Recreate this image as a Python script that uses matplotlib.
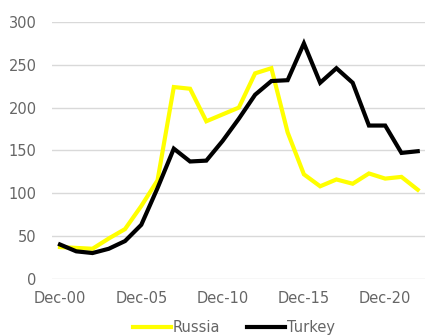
import matplotlib.pyplot as plt
import numpy as np

plt.rcParams.update({
    "font.family": ["DejaVu Sans"],
    "font.size": 10.5,
})

years = [f"Dec-{y % 100:02d}" for y in range(2000, 2023)]
russia = [37, 36, 35, 47, 58, 85, 115, 224, 222, 184, 192, 200, 240, 246,
          171, 122, 108, 116, 111, 123, 117, 119, 104]
turkey = [40, 32, 30, 35, 44, 63, 106, 152, 137, 138, 161, 187, 215, 231,
          232, 275, 229, 246, 229, 179, 179, 147, 149]

fig = plt.figure(figsize=(4.25, 3.36), dpi=100)
ax = fig.add_axes([0.122, 0.1705, 0.88, 0.764])

x = np.arange(len(years))
ax.plot(x, russia, color="#FFFF00", lw=3, label="Russia", solid_joinstyle="miter")
ax.plot(x, turkey, color="#000000", lw=3, label="Turkey", solid_joinstyle="miter")

ax.set_xlim(-0.5, len(years) - 0.5)
ax.set_ylim(0, 300)
ax.set_yticks(np.arange(0, 301, 50))
ax.set_xticks(x[::5])
ax.set_xticklabels(years[::5])

ax.grid(axis="y", color="#d9d9d9", lw=1)
ax.set_axisbelow(True)
for s in ax.spines.values():
    s.set_visible(False)
ax.tick_params(length=0, colors="#666666", labelsize=10.5)
ax.tick_params(axis="y", pad=11)
ax.tick_params(axis="x", pad=9)

fig.legend(loc="center", bbox_to_anchor=(0.55, 0.024), ncol=2, frameon=False,
           handlelength=2.6, handletextpad=0.15, columnspacing=1.8,
           labelcolor="#666666", fontsize=10.5)

fig.savefig("out.png", dpi=100)
